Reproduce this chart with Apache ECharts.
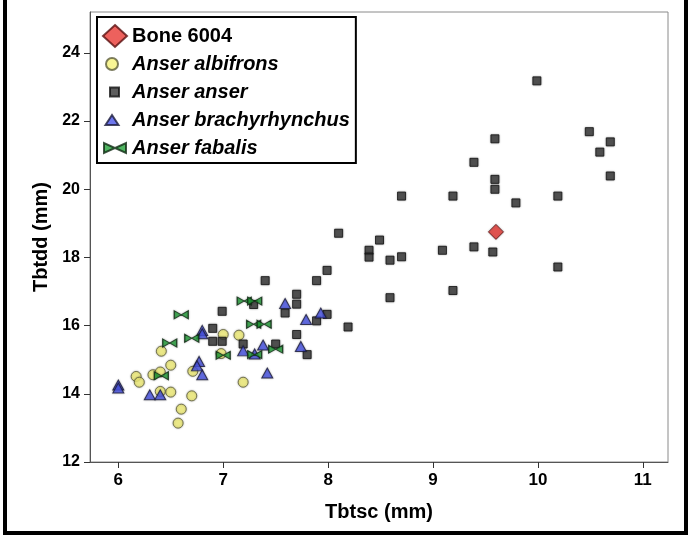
<!DOCTYPE html>
<html>
<head>
<meta charset="utf-8">
<script src="https://cdn.jsdelivr.net/npm/echarts@6/dist/echarts.min.js"></script>
<style>
    html, body {margin: 0; padding: 0; background: #fff;}
    #chart {width: 691px; height: 537px;}
</style>
</head>
<body>
<div id="chart"></div>
<script>
// 数据 [Tbtsc, Tbtdd]
var bone6004 = [[9.6, 18.75]];
var albifrons = [
    [6.17, 14.51], [6.20, 14.34], [6.33, 14.56], [6.40, 14.64], [6.41, 15.25], [6.40, 14.07],
    [6.50, 14.84], [6.50, 14.05], [6.70, 13.94], [6.60, 13.55], [6.57, 13.14], [6.71, 14.66],
    [7.00, 15.74], [7.15, 15.72], [6.98, 15.18], [7.19, 14.34]
];
var anser = [
    [6.90, 15.92], [6.90, 15.54], [6.99, 15.54], [6.99, 16.42], [7.19, 15.46], [7.29, 16.62],
    [7.40, 17.32], [7.50, 15.46], [7.59, 16.37], [7.70, 16.92], [7.70, 16.63], [7.70, 15.74],
    [7.80, 15.15], [7.89, 16.14], [7.99, 16.33], [7.89, 17.32], [7.99, 17.62], [8.10, 18.71],
    [8.19, 15.96], [8.39, 18.21], [8.39, 18.01], [8.49, 18.51], [8.59, 17.92], [8.59, 16.82],
    [8.70, 18.02], [8.70, 19.80], [9.09, 18.21], [9.19, 19.80], [9.19, 17.03], [9.39, 18.31],
    [9.39, 20.79], [9.57, 18.16], [9.59, 21.48], [9.59, 20.29], [9.59, 20.00], [9.79, 19.60],
    [9.99, 23.18], [10.19, 19.80], [10.19, 17.72], [10.49, 21.69], [10.59, 21.09], [10.69, 21.39],
    [10.69, 20.39]
];
var brachyrhynchus = [
    [6.00, 14.26], [6.00, 14.17], [6.30, 13.97], [6.40, 13.97], [6.80, 14.56], [6.77, 14.95],
    [6.75, 14.82], [6.80, 15.86], [6.80, 15.76], [7.19, 15.26], [7.30, 15.17], [7.38, 15.43],
    [7.42, 14.61], [7.59, 16.65], [7.74, 15.39], [7.79, 16.18], [7.93, 16.37]
];
var fabalis = [
    [6.41, 14.53], [6.49, 15.49], [6.60, 16.32], [6.70, 15.63], [7.00, 15.13], [7.20, 16.72],
    [7.30, 16.72], [7.29, 16.04], [7.39, 16.04], [7.30, 15.15], [7.50, 15.31]
];
var seriesNames = ['Bone 6004', 'Anser albifrons', 'Anser anser', 'Anser brachyrhynchus', 'Anser fabalis'];
var xTicks = [6, 7, 8, 9, 10, 11];
var yTicks = [12, 14, 16, 18, 20, 22, 24];

// 领结形状
var bowtie = 'path://M0,0 L10,5 L0,10 Z M20,0 L20,10 L10,5 Z';

// 图例图标 (24x22 框, 用 M 撑开边界, 让图标比框小)
var legendIcons = {
    'Bone 6004': 'diamond',
    'Anser albifrons': 'path://M0,0 M24,22 M3,11 A6,6 0 1,1 15,11 A6,6 0 1,1 3,11 Z',
    'Anser anser': 'path://M0,0 M24,22 M7,6.5 L16,6.5 L16,15.5 L7,15.5 Z',
    'Anser brachyrhynchus': 'path://M0,0 M24,22 M9,6 L15.5,16 L2.5,16 Z',
    'Anser fabalis': 'path://M0,0 M24,22 M1,6 L1,16 L12,11 Z M23,6 L23,16 L12,11 Z'
};

var chart = echarts.init(document.getElementById('chart'));

function pointStyle(color, border) {
    return {
        color: color,
        borderColor: border,
        borderWidth: 1,
        shadowColor: 'rgba(0,0,0,0.35)',
        shadowBlur: 2
    };
}

var option = {
    animation: false,
    backgroundColor: '#fff',
    grid: {
        left: 90,
        right: 23,
        top: 12,
        bottom: 75,
        show: true,
        borderColor: '#8a8a8a',
        borderWidth: 1
    },
    legend: {
        orient: 'vertical',
        left: 97,
        top: 17,
        padding: [7, 6, 3, 5],
        itemGap: 4,
        itemWidth: 24,
        itemHeight: 22,
        itemTextGap: 5,
        borderColor: '#000',
        borderWidth: 2,
        backgroundColor: '#fff',
        data: seriesNames.map(function (n) {
            return {name: n, icon: legendIcons[n]};
        }),
        textStyle: {
            color: '#000',
            fontFamily: 'Liberation Sans',
            fontWeight: 'bold',
            fontStyle: 'italic',
            fontSize: 20,
            rich: {
                n: {
                    fontFamily: 'Liberation Sans',
                    fontWeight: 'bold',
                    fontStyle: 'normal',
                    fontSize: 20,
                    color: '#000'
                },
                i: {
                    fontFamily: 'Liberation Sans',
                    fontWeight: 'bold',
                    fontStyle: 'italic',
                    fontSize: 20,
                    color: '#000'
                }
            }
        },
        formatter: function (name) {
            return name === 'Bone 6004' ? '{n|' + name + '}' : '{i|' + name + '}';
        }
    },
    xAxis: {
        type: 'value',
        min: 5.73,
        max: 11.24,
        name: 'Tbtsc (mm)',
        nameLocation: 'middle',
        nameGap: 40,
        nameTextStyle: {
            color: '#000',
            fontFamily: 'Liberation Sans',
            fontWeight: 'bold',
            fontSize: 20
        },
        axisLine: {lineStyle: {color: '#555', width: 1}},
        axisTick: {show: true, length: 6, customValues: xTicks, lineStyle: {color: '#333'}},
        axisLabel: {
            customValues: xTicks,
            margin: 10,
            color: '#000',
            fontFamily: 'Liberation Sans',
            fontWeight: 'bold',
            fontSize: 17
        },
        splitLine: {show: false}
    },
    yAxis: {
        type: 'value',
        min: 12,
        max: 25.2,
        name: 'Tbtdd (mm)',
        nameLocation: 'middle',
        nameGap: 38,
        nameRotate: 90,
        nameTextStyle: {
            color: '#000',
            fontFamily: 'Liberation Sans',
            fontWeight: 'bold',
            fontSize: 20
        },
        axisLine: {show: true, lineStyle: {color: '#555', width: 1}},
        axisTick: {show: true, length: 6, customValues: yTicks, lineStyle: {color: '#333'}},
        axisLabel: {
            customValues: yTicks,
            margin: 10,
            color: '#000',
            fontFamily: 'Liberation Sans',
            fontWeight: 'bold',
            fontSize: 16
        },
        splitLine: {show: false}
    },
    series: [{
        name: 'Bone 6004',
        type: 'scatter',
        symbol: 'diamond',
        symbolSize: 15,
        z: 5,
        itemStyle: pointStyle('#e83a35', '#5a1010'),
        data: bone6004
    }, {
        name: 'Anser albifrons',
        type: 'scatter',
        symbol: 'circle',
        symbolSize: 10,
        itemStyle: pointStyle('#f6f27a', '#5c5c3a'),
        data: albifrons
    }, {
        name: 'Anser anser',
        type: 'scatter',
        symbol: 'rect',
        symbolSize: 8,
        itemStyle: pointStyle('#353535', '#111'),
        data: anser
    }, {
        name: 'Anser brachyrhynchus',
        type: 'scatter',
        symbol: 'triangle',
        symbolSize: [11, 10],
        itemStyle: pointStyle('#4a55e8', '#1a1a3a'),
        data: brachyrhynchus
    }, {
        name: 'Anser fabalis',
        type: 'scatter',
        symbol: bowtie,
        symbolSize: [14, 8],
        itemStyle: pointStyle('#23a23a', '#102a14'),
        data: fabalis
    }],
    graphic: [{
        // 外框
        type: 'rect',
        silent: true,
        z: 100,
        shape: {x: 5, y: -20, width: 681, height: 553},
        style: {fill: null, stroke: '#000', lineWidth: 4}
    }]
};

chart.setOption(option);
</script>
</body>
</html>
